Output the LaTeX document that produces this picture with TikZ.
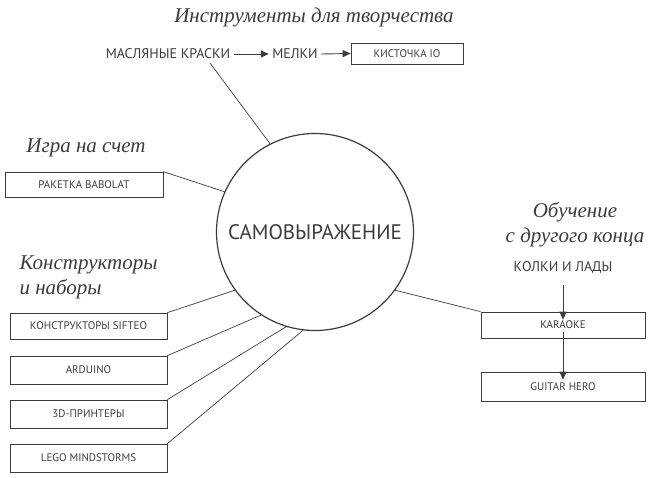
\documentclass[tikz,border=0pt]{standalone}
\usepackage{fontspec}
\setmainfont{PT Sans}
\newfontfamily\serifit{Liberation Serif}
\usetikzlibrary{arrows.meta}
\definecolor{ink}{HTML}{3c3c3c}
\begin{document}
\begin{tikzpicture}[x=1pt,y=-1pt,
  every node/.style={text=ink},
  box/.style={draw=ink,line width=0.7pt,minimum height=25pt,inner sep=0pt,font=\fontsize{11}{13}\selectfont},
  lab/.style={font=\fontsize{14}{16}\selectfont},
  head/.style={font=\serifit\itshape\fontsize{21}{25}\selectfont,align=center},
  con/.style={draw=ink,line width=0.7pt},
  arr/.style={draw=ink,line width=0.9pt,-{Triangle[width=7pt,length=8pt]}}]
\useasboundingbox (0,0) rectangle (650,477);
\node[circle,draw=ink,line width=1.2pt,minimum size=197pt,font=\fontsize{21}{24}\selectfont] (c) at (315,232) {САМОВЫРАЖЕНИЕ};
\node[head] (t1) at (314,17) {Инструменты для творчества};
\node[lab] (m1) at (168,54) {МАСЛЯНЫЕ КРАСКИ};
\node[lab] (m2) at (295,54) {МЕЛКИ};
\node[box,minimum width=112pt,minimum height=21pt] (k) at (407,53.5) {КИСТОЧКА IO};
\draw[arr] (m1.east) -- (m2.west);
\draw[arr] (m2.east) -- (k.west);
\coordinate (m1b) at (210,63);
\draw[con] (m1b) -- (c.117);
\node[head] (t2) at (86,148) {Игра на счет};
\node[box,minimum width=158pt] (b) at (84,184.5) {РАКЕТКА BABOLAT};
\draw[con] (b.north east) -- (c.156);
\node[head,align=left,anchor=west] (t3) at (16,277) {Конструкторы\\и наборы};
\node[box,minimum width=157pt,minimum height=26pt] (s1) at (88.5,326) {КОНСТРУКТОРЫ SIFTEO};
\node[box,minimum width=157pt,minimum height=28pt] (s2) at (88.5,370) {ARDUINO};
\node[box,minimum width=157pt,minimum height=28pt] (s3) at (88.5,414) {3D-ПРИНТЕРЫ};
\node[box,minimum width=157pt,minimum height=28pt] (s4) at (88.5,458) {LEGO MINDSTORMS};
\draw[con] (s1.north east) -- (c.216);
\draw[con] (s2.north east) -- (c.237);
\draw[con] (s3.north east) -- (c.253);
\draw[con] (s4.north east) -- (c.263);
\node[head] (t4) at (575,225) {Обучение\\с другого конца};
\node[lab] (kl) at (563,267) {КОЛКИ И ЛАДЫ};
\node[box,minimum width=164pt,minimum height=26pt] (ka) at (563,325) {KARAOKE};
\node[box,minimum width=164pt,minimum height=29pt] (g) at (563,386.5) {GUITAR HERO};
\draw[arr] (563,285) -- ([yshift=-8pt]ka.north);
\draw[arr] ([yshift=6pt]ka.south) -- ([yshift=-8pt]g.north);
\draw[con] (ka.north west) -- (c.324);
\end{tikzpicture}
\end{document}
